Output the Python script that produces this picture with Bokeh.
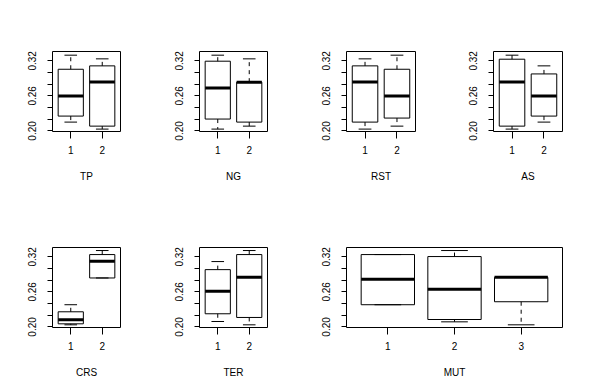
from bokeh.plotting import figure
from bokeh.models import Range1d, FixedTicker, PrintfTickFormatter, ColumnDataSource
from bokeh.layouts import row, column
from bokeh.embed import file_html
from bokeh.resources import INLINE

# Box statistics per group: (lower whisker, Q1, median, Q3, upper whisker)
TP = [(0.2151, 0.2254, 0.2598, 0.3056, 0.3297), (0.2031, 0.2082, 0.2839, 0.3114, 0.3234)]
NG = [(0.2031, 0.2203, 0.2735, 0.3194, 0.3297), (0.2082, 0.2151, 0.2835, 0.2835, 0.3234)]
RST = [(0.2031, 0.2151, 0.2839, 0.3114, 0.3234), (0.2082, 0.2220, 0.2598, 0.3056, 0.3297)]
AS = [(0.2031, 0.2082, 0.2839, 0.3228, 0.3297), (0.2151, 0.2254, 0.2598, 0.2976, 0.3114)]
CRS = [(0.2036, 0.2053, 0.2122, 0.2259, 0.2380), (0.2838, 0.2838, 0.3124, 0.3239, 0.3308)]
TER = [(0.2093, 0.2225, 0.2609, 0.2981, 0.3119), (0.2036, 0.2162, 0.2849, 0.3239, 0.3308)]
MUT = [(0.2380, 0.2380, 0.2815, 0.3239, 0.3239), (0.2087, 0.2127, 0.2643, 0.3205, 0.3308),
       (0.2036, 0.2431, 0.2849, 0.2849, 0.2849)]

Y_MAJOR = [0.20, 0.26, 0.32]
Y_MINOR = [0.22, 0.24, 0.28, 0.30]
Y_LIMITS = (0.199, 0.336)

FONT = "Liberation Sans"
FS = "10px"


def panel(name, stats, width, height, left, right, top, bottom):
    n = len(stats)
    ext = 0.04 * n
    p = figure(width=width, height=height,
               x_range=Range1d(0.5 - ext, n + 0.5 + ext),
               y_range=Range1d(*Y_LIMITS),
               output_backend="svg", toolbar_location=None,
               min_border_left=left, min_border_right=right,
               min_border_top=top, min_border_bottom=bottom)
    xs = list(range(1, n + 1))
    src = ColumnDataSource(dict(
        x=xs,
        xl=[x - 0.4 for x in xs], xr=[x + 0.4 for x in xs],
        sl=[x - 0.2 for x in xs], sr=[x + 0.2 for x in xs],
        lo=[s[0] for s in stats], q1=[s[1] for s in stats],
        med=[s[2] for s in stats], q3=[s[3] for s in stats],
        hi=[s[4] for s in stats]))
    # whiskers (dashed)
    p.segment(x0="x", y0="q3", x1="x", y1="hi", source=src, line_color="black",
              line_width=1, line_dash="4 4")
    p.segment(x0="x", y0="q1", x1="x", y1="lo", source=src, line_color="black",
              line_width=1, line_dash="4 4")
    # staples
    p.segment(x0="sl", y0="hi", x1="sr", y1="hi", source=src, line_color="black", line_width=1)
    p.segment(x0="sl", y0="lo", x1="sr", y1="lo", source=src, line_color="black", line_width=1)
    # boxes
    p.quad(left="xl", right="xr", bottom="q1", top="q3", source=src,
           fill_color=None, line_color="black", line_width=1)
    # medians
    p.segment(x0="xl", y0="med", x1="xr", y1="med", source=src, line_color="black",
              line_width=3, line_cap="butt")

    p.xgrid.visible = False
    p.ygrid.visible = False
    p.outline_line_color = "black"
    p.outline_line_width = 1
    p.outline_line_alpha = 1.0
    p.background_fill_color = "white"
    p.border_fill_color = "white"

    xa = p.xaxis[0]
    xa.ticker = FixedTicker(ticks=xs)
    xa.axis_line_color = None
    xa.major_tick_out = 7
    xa.major_tick_in = 0
    xa.major_tick_line_color = "black"
    xa.minor_tick_line_color = None
    xa.major_label_standoff = 7
    xa.major_label_text_font = FONT
    xa.major_label_text_font_size = FS
    xa.major_label_text_color = "black"
    xa.axis_label = name
    xa.axis_label_text_font = FONT
    xa.axis_label_text_font_size = FS
    xa.axis_label_text_font_style = "normal"
    xa.axis_label_text_color = "black"
    xa.axis_label_standoff = 14

    ya = p.yaxis[0]
    ya.ticker = FixedTicker(ticks=Y_MAJOR, minor_ticks=Y_MINOR)
    ya.formatter = PrintfTickFormatter(format="%.2f")
    ya.axis_line_color = None
    ya.major_tick_out = 5
    ya.major_tick_in = 0
    ya.minor_tick_out = 5
    ya.minor_tick_in = 0
    ya.major_tick_line_color = "black"
    ya.minor_tick_line_color = "black"
    ya.major_label_orientation = "vertical"
    ya.major_label_standoff = 11
    ya.major_label_text_font = FONT
    ya.major_label_text_font_size = FS
    ya.major_label_text_color = "black"
    return p


H1, T1, B1 = 196, 51, 65
H2, T2, B2 = 186, 51, 55

p_tp = panel("TP", TP, 147, H1, 52, 27, T1, B1)
p_ng = panel("NG", NG, 147, H1, 52, 27, T1, B1)
p_rst = panel("RST", RST, 147, H1, 52, 26, T1, B1)
p_as = panel("AS", AS, 130, H1, 52, 9, T1, B1)

p_crs = panel("CRS", CRS, 147, H2, 52, 27, T2, B2)
p_ter = panel("TER", TER, 147, H2, 52, 27, T2, B2)
p_mut = panel("MUT", MUT, 278, H2, 52, 10, T2, B2)

layout = column(row(p_tp, p_ng, p_rst, p_as), row(p_crs, p_ter, p_mut))

open("out.html", "w").write(file_html(layout, INLINE))
